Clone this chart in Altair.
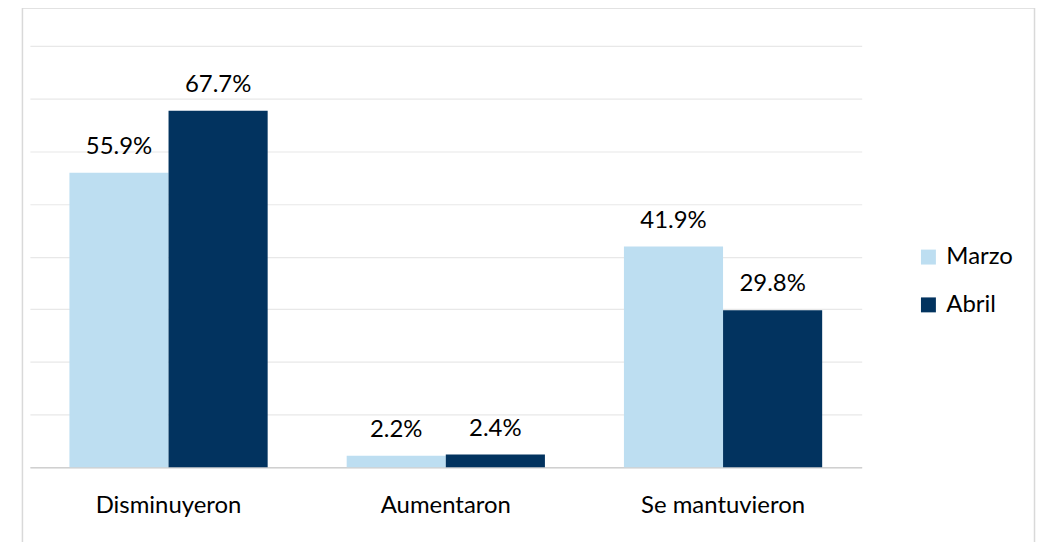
import altair as alt
import pandas as pd

categories = ["Disminuyeron", "Aumentaron", "Se mantuvieron"]
series = ["Marzo", "Abril"]
marzo = [55.9, 2.2, 41.9]
abril = [67.7, 2.4, 29.8]
colors = ["#BDDEF1", "#02335F"]

rows = []
for c, m, a in zip(categories, marzo, abril):
    rows.append({"cat": c, "serie": "Marzo", "value": m})
    rows.append({"cat": c, "serie": "Abril", "value": a})
df = pd.DataFrame(rows)

FONT = "Lato"
FS = 24

x = alt.X("cat:N", sort=categories, title=None,
          scale=alt.Scale(paddingInner=0.285, paddingOuter=0.1425),
          axis=alt.Axis(labelAngle=0, ticks=False, tickSize=0, domainColor="#d0d0d0",
                        domainWidth=1.5, labelFont=FONT, labelFontSize=FS,
                        labelColor="#000000", labelBaseline="alphabetic",
                        labelPadding=45, grid=False))
y = alt.Y("value:Q", title=None,
          scale=alt.Scale(domain=[0, 80], nice=False),
          axis=alt.Axis(values=[0, 10, 20, 30, 40, 50, 60, 70, 80], labels=False,
                        ticks=False, domain=False, gridColor="#e8e8e8", gridWidth=1.2))
xo = alt.XOffset("serie:N", sort=series, scale=alt.Scale(paddingInner=0, paddingOuter=0))
color = alt.Color("serie:N", sort=series,
                  scale=alt.Scale(domain=series, range=colors),
                  legend=alt.Legend(title=None, orient="none", legendX=890, legendY=200,
                                    symbolType="square", symbolSize=225,
                                    symbolStrokeWidth=0, labelFont=FONT,
                                    labelFontSize=FS, labelColor="#000000",
                                    labelOffset=6, rowPadding=24, padding=0))

bars = alt.Chart(df).mark_bar().encode(x=x, xOffset=xo, y=y, color=color)

labels = alt.Chart(df).transform_calculate(
    label="format(datum.value, '.1f') + '%'"
).mark_text(font=FONT, fontSize=FS, color="#000000", baseline="alphabetic", dy=-19).encode(
    x=alt.X("cat:N", sort=categories), xOffset=alt.XOffset("serie:N", sort=series),
    y="value:Q", text="label:N")

frame = alt.Chart(pd.DataFrame({"k": [0]})).mark_rect(
    fill=None, stroke="#d9d9d9", strokeWidth=1.5
).encode(x=alt.value(-7.5), x2=alt.value(1008.5), y=alt.value(-38), y2=alt.value(540))

chart = alt.layer(frame, bars, labels).properties(
    width=835, height=423,
    background="#ffffff",
    padding={"left": 22, "top": 37, "right": 177, "bottom": 74},
    autosize=alt.AutoSizeParams(type="none"),
).configure_view(strokeWidth=0, stroke="transparent")

chart.save("out.html", embed_options={"renderer": "svg", "actions": False})
